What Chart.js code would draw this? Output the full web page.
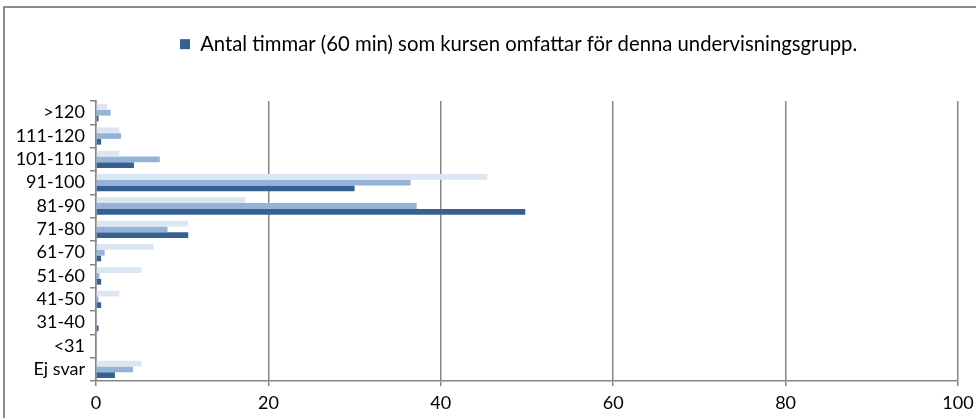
<!DOCTYPE html>
<html>
<head>
<meta charset="utf-8">
<script src="https://cdn.jsdelivr.net/npm/chart.js@4"></script>
<style>
    html, body { margin: 0; padding: 0; overflow: hidden; background: #fff; }
    #frame { position: absolute; left: 3px; top: 6px; width: 1100px; height: 600px; border: 2px solid #8c8c8c; }
    #wrap { position: absolute; left: 0; top: 0; width: 976px; height: 418px; }
</style>
</head>
<body>
<div id="frame"></div>
<div id="wrap"><canvas id="barChart"></canvas></div>
<script>
// categories, top to bottom
const categories = ['>120', '111-120', '101-110', '91-100', '81-90', '71-80', '61-70', '51-60', '41-50', '31-40', '<31', 'Ej svar'];
// three series (lightest first), percent
const seriesLight  = [1.3, 2.7, 2.7, 45.4, 17.3, 10.7, 6.7, 5.3, 2.7, 0, 0, 5.3];
const seriesMedium = [1.7, 2.9, 7.4, 36.5, 37.2, 8.3, 1.0, 0.4, 0.3, 0, 0, 4.3];
const seriesDark   = [0.3, 0.6, 4.4, 30.0, 49.8, 10.7, 0.6, 0.6, 0.6, 0.3, 0, 2.2];
const xTicks = [0, 20, 40, 60, 80, 100];
const legendLabel = 'Antal timmar (60 min) som kursen omfattar för denna undervisningsgrupp.';

const gridColor = '#868686';
const tickFont = { family: 'Lato', size: 18 };
const legendFont = { family: 'Lato', size: 20.3 };

// place legend like the original (box starts at x=180)
const legendShift = {
    id: 'legendShift',
    afterInit(chart) {
        const lg = chart.legend;
        const origFit = lg.fit;
        lg.fit = function () {
            origFit.call(this);
            this.height = 101;
        };
    },
    afterLayout(chart) {
        const lg = chart.legend;
        const w = lg.width;
        lg.left = 180 - lg.options.labels.padding;
        lg.right = lg.left + w;
    }
};

new Chart(document.getElementById('barChart').getContext('2d'), {
    type: 'bar',
    data: {
        labels: categories,
        datasets: [
            { label: 'light', data: seriesLight, backgroundColor: '#dce6f2' },
            { label: 'medium', data: seriesMedium, backgroundColor: '#95b3d7' },
            { label: legendLabel, data: seriesDark, backgroundColor: '#376092' }
        ]
    },
    options: {
        indexAxis: 'y',
        responsive: true,
        maintainAspectRatio: false,
        animation: false,
        devicePixelRatio: 1,
        barPercentage: 1,
        categoryPercentage: 0.74,
        layout: { padding: { left: 0, right: 18, top: 0, bottom: 0 } },
        plugins: {
            tooltip: { enabled: false },
            legend: {
                position: 'top',
                align: 'start',
                labels: {
                    filter: item => item.datasetIndex === 2,
                    boxWidth: 10,
                    boxHeight: 10,
                    padding: 34,
                    color: '#000',
                    font: legendFont
                }
            }
        },
        scales: {
            x: {
                min: 0,
                max: 100,
                afterBuildTicks: s => { s.ticks = xTicks.map(v => ({ value: v })); },
                afterFit: s => { s.height = 37; s.paddingLeft = 0; s.paddingRight = 0; },
                ticks: { color: '#000', font: tickFont, padding: 6, maxRotation: 0 },
                grid: { color: gridColor, lineWidth: 1.5, tickLength: 5 },
                border: { color: gridColor, width: 1.5 }
            },
            y: {
                afterFit: s => { s.width = 96; },
                ticks: { color: '#000', font: tickFont, padding: 5, autoSkip: false },
                grid: { drawOnChartArea: false, offset: true, color: gridColor, lineWidth: 1.5, tickLength: 6 },
                border: { color: gridColor, width: 1.5 }
            }
        }
    },
    plugins: [legendShift]
});
</script>
</body>
</html>
